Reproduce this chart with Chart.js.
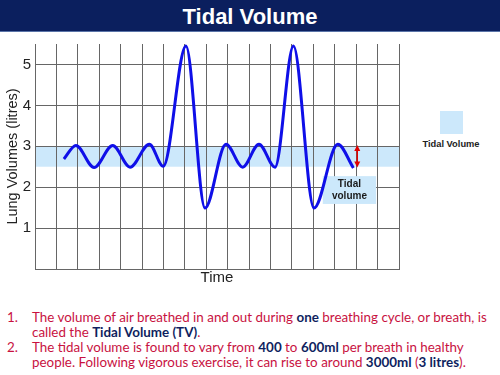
<!DOCTYPE html>
<html>
<head>
<meta charset="utf-8">
<script src="https://cdn.jsdelivr.net/npm/chart.js@4"></script>
<style>
  body { margin: 0; width: 500px; height: 375px; background: #fff; position: relative; overflow: hidden; font-family: "Liberation Sans", Arial, sans-serif; }
  #header { position: absolute; left: 0; top: 0; width: 500px; height: 31px; background: #0b1f5e; border-bottom: 1px solid #5a74a8; color: #fff; font-weight: bold; font-size: 22px; text-align: center; line-height: 33px; }
  #wrap { position: absolute; left: 0; top: 31px; width: 410px; height: 262px; }
  #legend { position: absolute; left: 410px; top: 111px; width: 82px; text-align: center; }
  #legend .box { width: 23px; height: 23px; background: #cce8fb; margin: 0 auto; }
  #legend .txt { font-weight: bold; font-size: 9.3px; color: #222; margin-top: 5px; }
  .note { position: absolute; left: 0; width: 500px; font-family: "Comic Sans MS", "Lato", sans-serif; font-size: 13.4px; line-height: 14.5px; color: #c8123f; white-space: nowrap; }
  .note .num { position: absolute; left: 7px; }
  .note .body { position: absolute; left: 32px; }
  .note b { color: #0f1f60; }
</style>
</head>
<body>
<div id="header">Tidal Volume</div>
<div id="wrap"><canvas id="line-chartcanvas"></canvas></div>
<div id="legend"><div class="box"></div><div class="txt">Tidal Volume</div></div>
<div class="note" style="top:310px"><span class="num">1.</span><span class="body">The volume of air breathed in and out during <b>one</b> breathing cycle, or breath, is<br>called the <b>Tidal Volume (TV)</b>.</span></div>
<div class="note" style="top:340px"><span class="num">2.</span><span class="body">The tidal volume is found to vary from <b>400</b> to <b>600ml</b> per breath in healthy<br>people. Following vigorous exercise, it can rise to around <b>3000ml</b> (<b>3 litres</b>).</span></div>
<script>
// breathing trace (time in grid columns, volume in litres)
var times = [1.35, 1.91, 2.76, 3.63, 4.44, 5.34, 5.99, 7.05, 7.94, 8.92, 9.70, 10.46, 11.21, 12.07, 13.03, 14.14, 14.87];
var volumes = [2.69, 3.02, 2.48, 3.02, 2.49, 3.05, 2.51, 5.45, 1.49, 3.05, 2.49, 3.05, 2.49, 5.45, 1.49, 3.05, 2.47];

// shaded tidal band and the red arrow
var tidalBand = [2.5, 3.0];
var arrowTime = 15.05;
var arrowRange = [2.48, 3.03];

// label box "Tidal volume"
var boxTimes = [13.44, 15.93];
var boxVolumes = [1.59, 2.27];
var boxLines = ["Tidal", "volume"];

var yLabels = [1, 2, 3, 4, 5];

var points = [];
for (var i = 0; i < times.length; i++) {
	points.push({ x: times[i], y: volumes[i] });
}

var gridColor = "#666666";

var extras = {
	id: "extras",
	beforeDraw: function(chart) {
		var ctx = chart.ctx, a = chart.chartArea, y = chart.scales.y;
		var top = y.getPixelForValue(tidalBand[1]);
		var bot = y.getPixelForValue(tidalBand[0]);
		ctx.save();
		ctx.fillStyle = "#cce8fb";
		ctx.fillRect(a.left, top, a.right - a.left, bot - top);
		ctx.restore();
	},
	beforeDatasetsDraw: function(chart) {
		var ctx = chart.ctx, x = chart.scales.x, y = chart.scales.y;
		var l = x.getPixelForValue(boxTimes[0]), r = x.getPixelForValue(boxTimes[1]);
		var t = y.getPixelForValue(boxVolumes[1]), b = y.getPixelForValue(boxVolumes[0]);
		ctx.save();
		ctx.fillStyle = "#cce8fb";
		ctx.fillRect(l, t, r - l, b - t);
		ctx.fillStyle = "#1a1a1a";
		ctx.font = "bold 10px 'Liberation Sans', Arial";
		ctx.textAlign = "center";
		ctx.textBaseline = "middle";
		var cx = (l + r) / 2, cy = (t + b) / 2;
		ctx.fillText(boxLines[0], cx, cy - 6);
		ctx.fillText(boxLines[1], cx, cy + 6);
		ctx.restore();
	},
	afterDatasetsDraw: function(chart) {
		var ctx = chart.ctx, x = chart.scales.x, y = chart.scales.y;
		var px = x.getPixelForValue(arrowTime);
		var y1 = y.getPixelForValue(arrowRange[1]), y2 = y.getPixelForValue(arrowRange[0]);
		ctx.save();
		ctx.strokeStyle = "#e00000";
		ctx.fillStyle = "#e00000";
		ctx.lineWidth = 1.5;
		ctx.beginPath();
		ctx.moveTo(px, y1 + 4);
		ctx.lineTo(px, y2 - 4);
		ctx.stroke();
		ctx.beginPath();
		ctx.moveTo(px, y1); ctx.lineTo(px - 3, y1 + 6); ctx.lineTo(px + 3, y1 + 6); ctx.closePath();
		ctx.fill();
		ctx.beginPath();
		ctx.moveTo(px, y2); ctx.lineTo(px - 3, y2 - 6); ctx.lineTo(px + 3, y2 - 6); ctx.closePath();
		ctx.fill();
		ctx.restore();
	}
};

var ctx = document.getElementById("line-chartcanvas");

var data = {
	datasets: [
		{
			label: "Lung volume",
			data: points,
			borderColor: "#0f0fe8",
			borderWidth: 3,
			fill: false,
			cubicInterpolationMode: "monotone",
			pointRadius: 0
		}
	]
};

var options = {
	responsive: true,
	maintainAspectRatio: false,
	animation: false,
	layout: { padding: { top: 5, right: 11, left: 0, bottom: 0 } },
	plugins: {
		legend: { display: false },
		tooltip: { enabled: false }
	},
	scales: {
		x: {
			type: "linear",
			min: 0,
			max: 17,
			ticks: { stepSize: 1, display: false },
			grid: { color: gridColor, drawTicks: false },
			border: { color: gridColor },
			title: {
				display: true,
				text: "Time",
				color: "#222",
				font: { family: "'Liberation Sans', Arial", size: 15 },
				padding: { top: 0, bottom: 6 }
			},
			afterFit: function(scale) { scale.height = 24; }
		},
		y: {
			min: 0,
			max: 5.5,
			ticks: {
				stepSize: 0.5,
				padding: 4,
				color: "#222",
				font: { family: "'Liberation Sans', Arial", size: 15 },
				callback: function(v) { return yLabels.indexOf(v) >= 0 ? v : ""; }
			},
			grid: { color: gridColor, drawTicks: false },
			border: { color: gridColor },
			title: {
				display: true,
				text: "Lung Volumes (litres)",
				color: "#222",
				font: { family: "'Liberation Sans', Arial", size: 14.5 },
				padding: { top: 4, bottom: 0 }
			},
			afterFit: function(scale) { scale.width = 35; }
		}
	}
};

var chart = new Chart(ctx, {
	type: "line",
	data: data,
	options: options,
	plugins: [extras]
});
</script>
</body>
</html>
